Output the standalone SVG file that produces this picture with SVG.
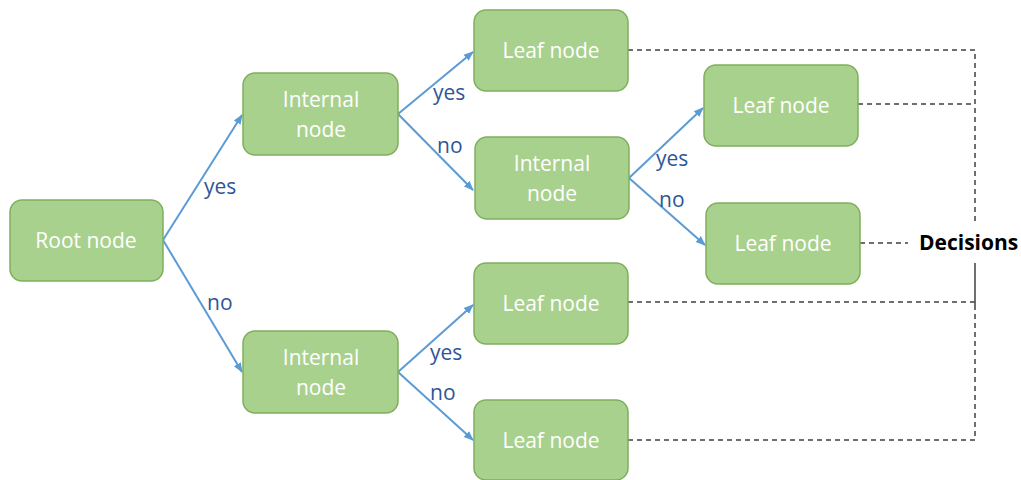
<svg xmlns="http://www.w3.org/2000/svg" width="1021" height="480" viewBox="0 0 1021 480">
<defs>
<style>
.node rect{fill:#A9D18E;stroke:#7FAE5C;stroke-width:1.5}
.node text{fill:#fff;font-family:"Open Sans","Liberation Sans",sans-serif;font-size:21px;text-anchor:middle}
.arr{stroke:#5B9BD5;stroke-width:2;fill:none;marker-end:url(#ah)}
.dash{stroke:#404040;stroke-width:1.5;fill:none;stroke-dasharray:5 4}
.lbl{fill:#2F5597;font-family:"Open Sans","Liberation Sans",sans-serif;font-size:21px}
</style>
<marker id="ah" viewBox="0 0 10 10" refX="9" refY="5" markerWidth="5" markerHeight="5" orient="auto"><path d="M0,1 L10,5 L0,9 z" fill="#5B9BD5"/></marker>
</defs>
<rect width="1021" height="480" fill="#fff"/>
<g id="connectors">
<line class="arr" x1="163" y1="240" x2="242" y2="115"/>
<line class="arr" x1="163" y1="240" x2="242" y2="372"/>
<line class="arr" x1="398" y1="114" x2="473" y2="52"/>
<line class="arr" x1="398" y1="114" x2="473" y2="190"/>
<line class="arr" x1="629" y1="178" x2="703" y2="108"/>
<line class="arr" x1="629" y1="178" x2="705" y2="245"/>
<line class="arr" x1="398" y1="372" x2="473" y2="305"/>
<line class="arr" x1="398" y1="372" x2="473" y2="440"/>
<path class="dash" d="M628,50 H975 V222"/>
<path class="dash" d="M858,104 H975"/>
<path class="dash" d="M860,243 H908"/>
<line x1="975" y1="263" x2="975" y2="305" stroke="#404040" stroke-width="1.5"/>
<path class="dash" d="M628,302 H975"/>
<path class="dash" d="M628,440 H975 V305"/>
<text class="lbl" x="204" y="194">yes</text>
<text class="lbl" x="207" y="310">no</text>
<text class="lbl" x="433" y="100">yes</text>
<text class="lbl" x="437" y="153">no</text>
<text class="lbl" x="656" y="166">yes</text>
<text class="lbl" x="659" y="207">no</text>
<text class="lbl" x="430" y="360">yes</text>
<text class="lbl" x="430" y="400">no</text>
</g>
<g id="root" class="node"><rect x="10" y="200" width="153" height="81" rx="12"/><text x="86" y="248">Root node</text></g>
<g id="internal1" class="node"><rect x="243" y="73" width="155" height="82" rx="12"/><text x="321" y="107">Internal</text><text x="321" y="137">node</text></g>
<g id="internal2" class="node"><rect x="243" y="331" width="155" height="82" rx="12"/><text x="321" y="365">Internal</text><text x="321" y="395">node</text></g>
<g id="leaf1" class="node"><rect x="474" y="10" width="154" height="81" rx="12"/><text x="551" y="58">Leaf node</text></g>
<g id="internal3" class="node"><rect x="475" y="137" width="154" height="82" rx="12"/><text x="552" y="171">Internal</text><text x="552" y="201">node</text></g>
<g id="leaf2" class="node"><rect x="704" y="65" width="154" height="81" rx="12"/><text x="781" y="113">Leaf node</text></g>
<g id="leaf3" class="node"><rect x="706" y="203" width="154" height="81" rx="12"/><text x="783" y="251">Leaf node</text></g>
<g id="leaf4" class="node"><rect x="474" y="263" width="154" height="81" rx="12"/><text x="551" y="311">Leaf node</text></g>
<g id="leaf5" class="node"><rect x="474" y="400" width="154" height="80" rx="12"/><text x="551" y="448">Leaf node</text></g>
<g id="decisions"><text x="919" y="250" font-family="'Open Sans','Liberation Sans',sans-serif" font-size="21" font-weight="bold" fill="#000">Decisions</text></g>
</svg>
